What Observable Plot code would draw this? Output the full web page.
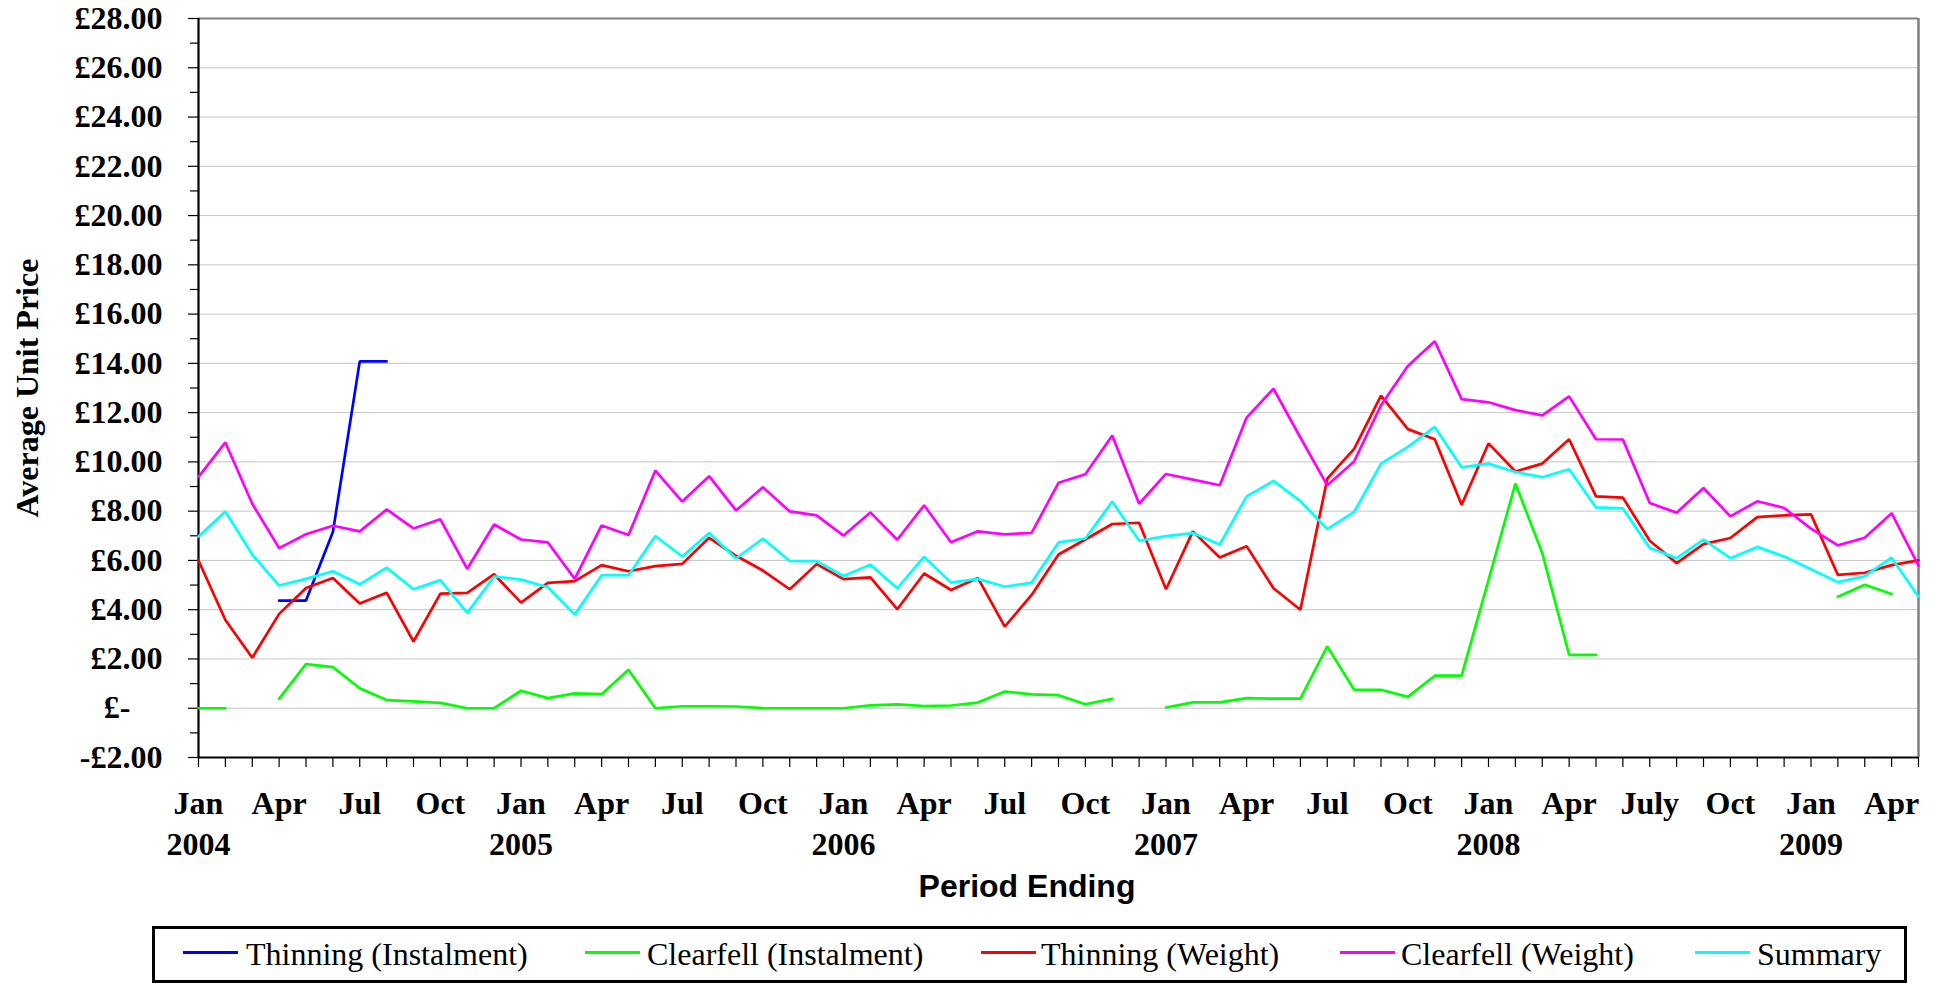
<!DOCTYPE html>
<html>
<head>
<meta charset="utf-8">
<script src="https://cdn.jsdelivr.net/npm/d3@7"></script>
<script src="https://cdn.jsdelivr.net/npm/@observablehq/plot@0.6"></script>
<style>
  html, body { margin: 0; padding: 0; background: #fff; }
  #wrap { position: relative; width: 1937px; height: 985px; overflow: hidden; background: #fff; }
  #chart { position: absolute; left: 0; top: 0; }
  #legendBox { position: absolute; left: 152px; top: 926px; width: 1755px; height: 57px; box-sizing: border-box; border: 3px solid #000; }
  .lg-line { position: absolute; height: 3px; top: 951px; }
  .lg-text { position: absolute; top: 938px; font-family: "Liberation Serif", "Times New Roman", serif; font-size: 32px; line-height: 32px; color: #000; white-space: nowrap; }
</style>
</head>
<body>
<div id="wrap">
  <div id="chart"></div>
  <div id="legendBox"></div>
  <div id="legendItems"></div>
</div>
<script>
// ---- Data (monthly, Jan 2004 – May 2009) ----
const seriesNames = ["Thinning (Instalment)", "Clearfell (Instalment)", "Thinning (Weight)", "Clearfell (Weight)", "Summary"];
const seriesColors = ["#0000ff", "#00ff00", "#ff0000", "#ff00ff", "#00ffff"];

const thinningInstalment = [
  null, null, null, 4.37, 4.37, 7.15, 14.08, 14.08, null, null, null, null,
  null, null, null, null, null, null, null, null, null, null, null, null,
  null, null, null, null, null, null, null, null, null, null, null, null,
  null, null, null, null, null, null, null, null, null, null, null, null,
  null, null, null, null, null, null, null, null, null, null, null, null,
  null, null, null, null, null
];
const clearfellInstalment = [
  0.00, 0.00, null, 0.39, 1.79, 1.67, 0.81, 0.33, 0.28, 0.22, 0.00, 0.00,
  0.71, 0.41, 0.60, 0.57, 1.56, 0.00, 0.08, 0.08, 0.07, 0.01, 0.00, 0.00,
  0.00, 0.12, 0.16, 0.09, 0.11, 0.23, 0.68, 0.56, 0.53, 0.16, 0.38, null,
  0.03, 0.24, 0.24, 0.41, 0.39, 0.39, 2.51, 0.75, 0.75, 0.46, 1.32, 1.32,
  5.20, 9.12, 6.30, 2.17, 2.17, null, null, null, null, null, null, null,
  null, 4.53, 5.01, 4.64, null
];
const thinningWeight = [
  6.00, 3.58, 2.05, 3.83, 4.88, 5.29, 4.25, 4.69, 2.71, 4.65, 4.68, 5.44,
  4.29, 5.09, 5.16, 5.81, 5.56, 5.77, 5.86, 6.92, 6.19, 5.59, 4.83, 5.85,
  5.24, 5.31, 4.02, 5.47, 4.80, 5.29, 3.31, 4.60, 6.24, 6.85, 7.48, 7.53,
  4.83, 7.18, 6.12, 6.58, 4.87, 4.00, 9.32, 10.53, 12.69, 11.33, 10.92, 8.26,
  10.75, 9.61, 9.93, 10.92, 8.60, 8.55, 6.80, 5.89, 6.66, 6.91, 7.76, 7.83,
  7.87, 5.41, 5.50, 5.81, 6.00
];
const clearfellWeight = [
  9.39, 10.79, 8.30, 6.50, 7.06, 7.41, 7.18, 8.07, 7.30, 7.67, 5.66, 7.46,
  6.85, 6.73, 5.25, 7.42, 7.03, 9.65, 8.39, 9.42, 8.03, 8.97, 7.99, 7.83,
  7.01, 7.95, 6.84, 8.24, 6.74, 7.18, 7.06, 7.12, 9.15, 9.50, 11.07, 8.30,
  9.51, 9.28, 9.05, 11.80, 12.97, 10.99, 9.05, 10.02, 12.30, 13.89, 14.90, 12.55,
  12.42, 12.10, 11.89, 12.66, 10.92, 10.91, 8.33, 7.94, 8.94, 7.79, 8.40, 8.13,
  7.29, 6.61, 6.92, 7.92, 5.79
];
const summary = [
  6.97, 7.99, 6.24, 4.98, 5.25, 5.56, 5.03, 5.71, 4.83, 5.20, 3.87, 5.35,
  5.22, 4.91, 3.80, 5.40, 5.40, 6.99, 6.16, 7.11, 6.08, 6.89, 5.98, 5.97,
  5.37, 5.83, 4.87, 6.15, 5.10, 5.25, 4.93, 5.10, 6.73, 6.89, 8.39, 6.80,
  6.99, 7.11, 6.65, 8.60, 9.23, 8.41, 7.27, 7.97, 9.93, 10.61, 11.42, 9.78,
  9.93, 9.59, 9.38, 9.70, 8.15, 8.11, 6.51, 6.09, 6.85, 6.09, 6.55, 6.16,
  5.64, 5.12, 5.36, 6.11, 4.53
];

// Tick labels
const monthTickLabels = ["Jan","Apr","Jul","Oct","Jan","Apr","Jul","Oct","Jan","Apr","Jul","Oct",
                         "Jan","Apr","Jul","Oct","Jan","Apr","July","Oct","Jan","Apr"];
const yearTickLabels = ["2004","2005","2006","2007","2008","2009"];
const yTickValues = [-2, 0, 2, 4, 6, 8, 10, 12, 14, 16, 18, 20, 22, 24, 26, 28];
const yMinorTickValues = [-1, 1, 3, 5, 7, 9, 11, 13, 15, 17, 19, 21, 23, 25, 27];

// ---- Long table ----
const seriesValues = [thinningInstalment, clearfellInstalment, thinningWeight, clearfellWeight, summary];
const rows = seriesNames.flatMap((name, s) => seriesValues[s].map((v, i) => ({period: i, series: name, value: v})));
const nPeriods = summary.length;

const serif = "Liberation Serif, Times New Roman, serif";
const sans = "Liberation Sans, Arial, sans-serif";
const yFmt = v => v === 0 ? "£-\u00a0\u00a0\u00a0\u00a0" : (v < 0 ? "-£" : "£") + Math.abs(v).toFixed(2);

const chart = Plot.plot({
  width: 1937,
  height: 915,
  marginLeft: 198,
  marginRight: 19,
  marginTop: 18,
  marginBottom: 158,
  style: {background: "white", fontFamily: serif, color: "black"},
  x: {type: "linear", domain: [0, nPeriods - 1], label: null},
  y: {domain: [-2, 28], label: null},
  color: {domain: seriesNames, range: seriesColors},
  marks: [
    Plot.ruleY(yTickValues.filter(v => v > -2 && v < 28), {stroke: "#c4c4c4", strokeWidth: 1}),
    Plot.ruleY([28], {stroke: "#808080", strokeWidth: 2}),
    Plot.ruleX([nPeriods - 1], {stroke: "#808080", strokeWidth: 2.5}),
    Plot.axisY({ticks: yMinorTickValues, tickSize: 8, tickFormat: () => "", label: null, strokeWidth: 1.2}),
    Plot.axisY({ticks: yTickValues, tickSize: 10, tickPadding: 26, tickFormat: yFmt, label: null,
                fontSize: 32, fontWeight: "bold", fontFamily: serif, fill: "black", strokeWidth: 1.2}),
    Plot.axisX({ticks: d3.range(0, nPeriods), tickSize: 10, tickFormat: () => "", label: null, strokeWidth: 1.2}),
    Plot.axisX({ticks: d3.range(0, nPeriods - 1, 3), tickSize: 0, tickPadding: 34,
                tickFormat: v => monthTickLabels[v / 3], label: null,
                fontSize: 32, fontWeight: "bold", fontFamily: serif, fill: "black"}),
    Plot.axisX({ticks: d3.range(0, nPeriods - 1, 12), tickSize: 0, tickPadding: 75,
                tickFormat: v => yearTickLabels[v / 12], label: null,
                fontSize: 32, fontWeight: "bold", fontFamily: serif, fill: "black"}),
    Plot.ruleX([0], {stroke: "black", strokeWidth: 2.2}),
    Plot.ruleY([-2], {stroke: "black", strokeWidth: 2.2}),
    Plot.line(rows, {x: "period", y: "value", z: "series", stroke: "series", strokeWidth: 2.7, strokeLinejoin: "miter"}),
    Plot.text(["Average Unit Price"], {text: d => d, frameAnchor: "left", textAnchor: "middle", dx: -171, rotate: -90,
                fontSize: 32, fontWeight: "bold", fontFamily: serif, fill: "black"}),
    Plot.text(["Period Ending"], {text: d => d, frameAnchor: "bottom", dx: -31.5, dy: 139,
                fontSize: 32, fontWeight: "bold", fontFamily: sans, fill: "black"})
  ]
});
document.getElementById("chart").appendChild(chart);

// ---- Legend ----
const legendLineX = [183, 585, 981, 1340, 1695];
const legendTextX = [246, 647, 1041, 1401, 1757];
const legendItems = document.getElementById("legendItems");
seriesNames.forEach((name, i) => {
  const ln = document.createElement("div");
  ln.className = "lg-line";
  ln.style.left = legendLineX[i] + "px";
  ln.style.width = "55px";
  ln.style.background = seriesColors[i];
  legendItems.appendChild(ln);
  const tx = document.createElement("div");
  tx.className = "lg-text";
  tx.style.left = legendTextX[i] + "px";
  tx.textContent = name;
  legendItems.appendChild(tx);
});
</script>
</body>
</html>
